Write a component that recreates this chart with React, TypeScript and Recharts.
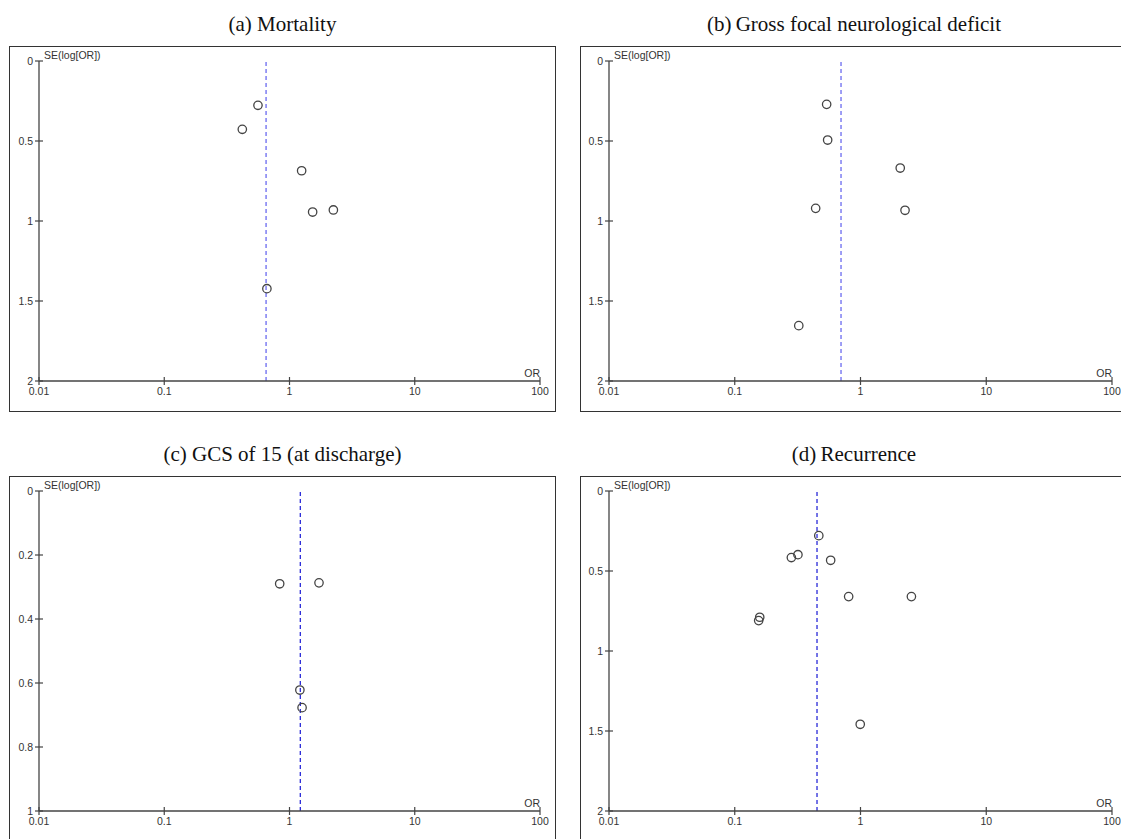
import React from "react";
import { ReferenceLine, Scatter, ScatterChart, XAxis, YAxis } from "recharts";

// Odds ratios / SE, one pair of arrays per outcome.
const mortalityOR = [0.56, 0.42, 1.25, 1.53, 2.24, 0.66];
const mortalitySE = [0.277, 0.427, 0.686, 0.944, 0.931, 1.423];
const mortalityPooled = 0.65;

const deficitOR = [0.538, 0.548, 2.07, 0.44, 2.26, 0.323];
const deficitSE = [0.271, 0.494, 0.669, 0.921, 0.933, 1.654];
const deficitPooled = 0.7;

const gcsOR = [0.835, 1.72, 1.21, 1.26];
const gcsSE = [0.29, 0.287, 0.622, 0.677];
const gcsPooled = 1.22;

const recurrenceOR = [0.466, 0.282, 0.318, 0.579, 0.805, 2.54, 0.158, 0.155, 0.995];
const recurrenceSE = [0.279, 0.416, 0.398, 0.433, 0.66, 0.66, 0.789, 0.81, 1.458];
const recurrencePooled = 0.451;

const xTicks = [0.01, 0.1, 1, 10, 100];
const seTicks2 = [0, 0.5, 1, 1.5, 2];
const seTicks1 = [0, 0.2, 0.4, 0.6, 0.8, 1];

const AXIS = "#444";
const TEXT = "#333";
const SANS = "'Liberation Sans', Arial, sans-serif";

const toPoints = (or: number[], se: number[]) => or.map((v, i) => ({ or: v, se: se[i] }));

const XTick = (props: any) => {
  const { x, y, payload } = props;
  return (
    <g>
      <line x1={x} x2={x} y1={y - 4} y2={y + 4} stroke={AXIS} strokeWidth={1.2} />
      <text x={x} y={y + 14} textAnchor="middle" fontSize={10.5} fontFamily={SANS} fill={TEXT}>
        {payload.value}
      </text>
    </g>
  );
};

const YTick = (props: any) => {
  const { x, y, payload } = props;
  return (
    <g>
      <line x1={x - 4} x2={x + 4} y1={y} y2={y} stroke={AXIS} strokeWidth={1.2} />
      <text x={x - 6} y={y + 4} textAnchor="end" fontSize={10.5} fontFamily={SANS} fill={TEXT}>
        {payload.value}
      </text>
    </g>
  );
};

const OpenCircle = (props: any) => (
  <circle cx={props.cx} cy={props.cy} r={4.2} fill="none" stroke="#444" strokeWidth={1.3} />
);

type PanelProps = {
  title: string;
  left: number;
  top: number;
  width: number;
  yAxisWidth: number;
  or: number[];
  se: number[];
  pooled: number;
  seMax: number;
  seTicks: number[];
  lineColor: string;
};

function FunnelPanel({ title, left, top, width, yAxisWidth, or, se, pooled, seMax, seTicks, lineColor }: PanelProps) {
  const height = 366;
  return (
    <>
      <div
        style={{
          position: "absolute",
          left,
          top: top - 37,
          width,
          height: 30,
          lineHeight: "30px",
          textAlign: "center",
          fontFamily: "'Liberation Serif', 'Times New Roman', serif",
          fontSize: 21,
          color: "#111",
          whiteSpace: "nowrap",
        }}
      >
        {title}
      </div>
      <div
        style={{
          position: "absolute",
          left,
          top,
          width,
          height,
          boxSizing: "border-box",
          border: "1px solid #333",
        }}
      />
      <div style={{ position: "absolute", left, top }}>
        <ScatterChart width={width} height={height} margin={{ top: 15, right: 16, bottom: 0, left: 0 }}>
          <XAxis
            type="number"
            dataKey="or"
            scale="log"
            domain={[0.01, 100]}
            ticks={xTicks}
            allowDataOverflow
            height={31}
            stroke={AXIS}
            strokeWidth={1.3}
            tickLine={false}
            tickSize={0}
            tickMargin={0}
            tick={<XTick />}
            interval={0}
            label={{
              content: (p: any) => {
                const vb = p.viewBox || {};
                return (
                  <text x={vb.x + vb.width} y={vb.y - 4} textAnchor="end" fontSize={10.5} fontFamily={SANS} fill={TEXT}>
                    OR
                  </text>
                );
              },
            }}
          />
          <YAxis
            type="number"
            dataKey="se"
            reversed
            domain={[0, seMax]}
            ticks={seTicks}
            allowDataOverflow
            width={yAxisWidth}
            stroke={AXIS}
            strokeWidth={1.3}
            tickLine={false}
            tickSize={0}
            tickMargin={0}
            tick={<YTick />}
            interval={0}
            label={{
              content: (p: any) => {
                const vb = p.viewBox || {};
                return (
                  <text x={vb.x + vb.width + 5} y={vb.y - 2} fontSize={10.5} fontFamily={SANS} fill={TEXT}>
                    SE(log[OR])
                  </text>
                );
              },
            }}
          />
          <ReferenceLine x={pooled} stroke={lineColor} strokeWidth={1.3} strokeDasharray="4 3" />
          <Scatter data={toPoints(or, se)} shape={OpenCircle} isAnimationActive={false} />
        </ScatterChart>
      </div>
    </>
  );
}

export default function App() {
  return (
    <div style={{ position: "absolute", left: 0, top: 0, width: 1121, height: 839, overflow: "hidden", background: "#fff" }}>
      <FunnelPanel
        title="(a) Mortality"
        left={9}
        top={46}
        width={547}
        yAxisWidth={30}
        or={mortalityOR}
        se={mortalitySE}
        pooled={mortalityPooled}
        seMax={2}
        seTicks={seTicks2}
        lineColor="#6a6af0"
      />
      <FunnelPanel
        title={"(b)\u2009Gross focal neurological deficit"}
        left={580}
        top={46}
        width={548}
        yAxisWidth={29}
        or={deficitOR}
        se={deficitSE}
        pooled={deficitPooled}
        seMax={2}
        seTicks={seTicks2}
        lineColor="#6a6af0"
      />
      <FunnelPanel
        title="(c) GCS of 15 (at discharge)"
        left={9}
        top={476}
        width={547}
        yAxisWidth={30}
        or={gcsOR}
        se={gcsSE}
        pooled={gcsPooled}
        seMax={1}
        seTicks={seTicks1}
        lineColor="#2a2ad8"
      />
      <FunnelPanel
        title={"(d)\u2009Recurrence"}
        left={580}
        top={476}
        width={548}
        yAxisWidth={29}
        or={recurrenceOR}
        se={recurrenceSE}
        pooled={recurrencePooled}
        seMax={2}
        seTicks={seTicks2}
        lineColor="#2a2ad8"
      />
    </div>
  );
}
